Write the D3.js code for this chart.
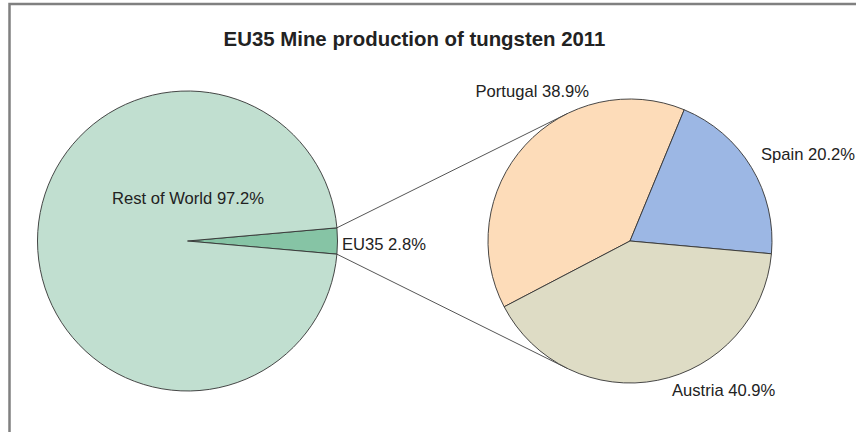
<!DOCTYPE html>
<html>
<head>
<meta charset="utf-8">
<script src="https://cdn.jsdelivr.net/npm/d3@7"></script>
<style>
  html, body { margin: 0; padding: 0; background: #fff; }
  svg { display: block; }
  text { font-family: "Liberation Sans", Arial, sans-serif; fill: #222; }
</style>
</head>
<body>
<svg id="chart" width="856" height="432"></svg>
<script>
// ---- data ----
const title = "EU35 Mine production of tungsten 2011";
const worldCategories = ["EU35", "Rest of World"];
const worldValues = [2.8, 97.2];
const euCategories = ["Portugal", "Spain", "Austria"];
const euValues = [38.9, 20.2, 40.9];

// ---- styling / layout ----
const colors = {
  "Rest of World": "#c1dfd0",
  "EU35": "#86c4a5",
  "Portugal": "#fddcb9",
  "Spain": "#9cb7e4",
  "Austria": "#dedcc5"
};
const W = 856, H = 432;
const left = { cx: 187.5, cy: 241, r: 150 };
const right = { cx: 630, cy: 241, r: 142 };
// label offsets relative to pie centre (px) and anchors
const labelLayout = {
  "Rest of World": { dx: 0.5, dy: -37, anchor: "middle" },
  "EU35": { dx: 154.5, dy: 9, anchor: "start" },
  "Portugal": { dx: -41, dy: -144, anchor: "end" },
  "Spain": { dx: 131, dy: -81, anchor: "start" },
  "Austria": { dx: 42, dy: 155, anchor: "start" }
};

const svg = d3.select("#chart");

// frame
svg.append("rect")
  .attr("x", 9.5).attr("y", 4)
  .attr("width", W + 20).attr("height", H + 20)
  .attr("fill", "none").attr("stroke", "#808080").attr("stroke-width", 2.5);

// title
svg.append("text")
  .attr("x", 414.5).attr("y", 46)
  .attr("text-anchor", "middle")
  .attr("font-size", "20.4px").attr("font-weight", "bold")
  .text(title);

// ---- left pie ----
const worldData = worldCategories.map((c, i) => ({ name: c, value: worldValues[i] }));
const total = d3.sum(worldValues);
const euFrac = worldValues[0] / total;
const leftStart = Math.PI / 2 - euFrac * Math.PI;
const leftPie = d3.pie().sort(null).value(d => d.value)
  .startAngle(leftStart).endAngle(leftStart + 2 * Math.PI);
const leftArcs = leftPie(worldData);
const leftArc = d3.arc().innerRadius(0).outerRadius(left.r);

// ---- right pie ----
const euData = euCategories.map((c, i) => ({ name: c, value: euValues[i] }));
const rightStart = -117.6 * Math.PI / 180;
const rightPie = d3.pie().sort(null).value(d => d.value)
  .startAngle(rightStart).endAngle(rightStart + 2 * Math.PI);
const rightArcs = rightPie(euData);
const rightArc = d3.arc().innerRadius(0).outerRadius(right.r);

// connector lines (tangents from EU35 wedge edge to right pie)
const euArc = leftArcs[0];
function polar(c, r, a) { return [c.cx + r * Math.sin(a), c.cy - r * Math.cos(a)]; }
function tangent(p, c, r, sign) {
  const dx = c.cx - p[0], dy = c.cy - p[1];
  const d = Math.hypot(dx, dy);
  const theta = Math.atan2(dy, dx);
  const alpha = Math.asin(r / d);
  const len = Math.sqrt(d * d - r * r);
  const a = theta + sign * alpha;
  return [p[0] + len * Math.cos(a), p[1] + len * Math.sin(a)];
}
const pTop = polar(left, left.r, euArc.startAngle);
const pBot = polar(left, left.r, euArc.endAngle);
const tTop = tangent(pTop, right, right.r, -1);
const tBot = tangent(pBot, right, right.r, 1);
svg.append("g").selectAll("line")
  .data([[pTop, tTop], [pBot, tBot]])
  .join("line")
  .attr("x1", d => d[0][0]).attr("y1", d => d[0][1])
  .attr("x2", d => d[1][0]).attr("y2", d => d[1][1])
  .attr("stroke", "#555").attr("stroke-width", 1);

const gL = svg.append("g").attr("transform", `translate(${left.cx},${left.cy})`);
gL.selectAll("path").data(leftArcs).join("path")
  .attr("d", leftArc)
  .attr("fill", d => colors[d.data.name])
  .attr("stroke", "#333").attr("stroke-width", 0.9).attr("stroke-linejoin", "round");

const gR = svg.append("g").attr("transform", `translate(${right.cx},${right.cy})`);
gR.selectAll("path").data(rightArcs).join("path")
  .attr("d", rightArc)
  .attr("fill", d => colors[d.data.name])
  .attr("stroke", "#333").attr("stroke-width", 0.9).attr("stroke-linejoin", "round");

// labels
const fmt = v => v.toFixed(1) + "%";
function addLabels(g, arcs) {
  g.selectAll("text").data(arcs).join("text")
    .attr("x", d => labelLayout[d.data.name].dx)
    .attr("y", d => labelLayout[d.data.name].dy)
    .attr("text-anchor", d => labelLayout[d.data.name].anchor)
    .attr("font-size", "16.6px")
    .text(d => `${d.data.name} ${fmt(d.data.value)}`);
}
addLabels(gL, leftArcs);
addLabels(gR, rightArcs);
</script>
</body>
</html>
